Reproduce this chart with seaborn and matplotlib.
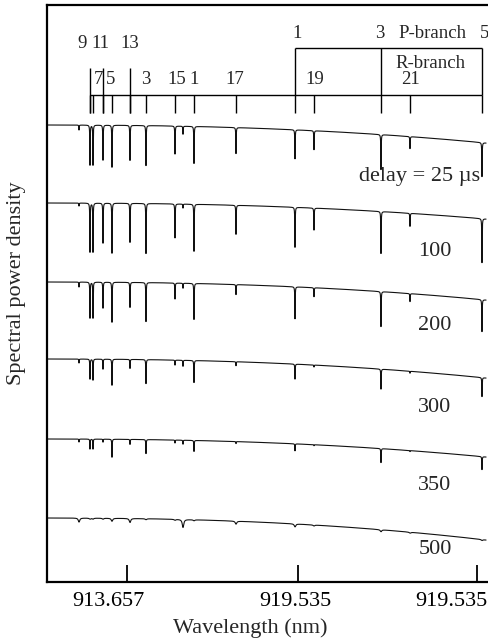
import numpy as np
import pandas as pd
import matplotlib
matplotlib.use("Agg")
import matplotlib.pyplot as plt
import seaborn as sns
from matplotlib.transforms import ScaledTranslation

# ---------------- data ----------------
delays = ["25", "100", "200", "300", "350", "500"]
delay_labels = ["delay = 25 µs", "100", "200", "300", "350", "500"]

# absorption line centres (nm)
line_nm = [912.007, 912.385, 912.488, 912.832, 913.141, 913.760, 914.310,
           915.307, 915.582, 915.960, 917.404, 919.432, 920.085, 922.388,
           923.385, 925.860]

# line depths (arbitrary units) for each delay
depth_25 = [5, 40, 40, 35, 42, 35, 40, 28, 8, 37, 26, 29, 19, 35, 12, 34]
depth_100 = [3, 49, 49, 40, 50, 39, 50, 34, 4, 47, 29, 40, 22, 42, 13, 44]
depth_200 = [5, 36, 36, 26, 40, 25, 39, 16, 5, 36, 10, 32, 9, 35, 8, 32]
depth_300 = [4, 20, 21, 10, 26, 9, 24, 5, 6, 22, 4, 15, 2, 20, 2, 19]
depth_350 = [3, 10, 10, 3, 18, 5, 14, 3, 4, 11, 2, 7, 1, 14, 1, 13]
depth_500 = [4, 1, 1, 1, 3, 4, 1, 1, 8, 1, 3, 3, 1, 2, 1, 1]
depths = [depth_25, depth_100, depth_200, depth_300, depth_350, depth_500]

# continuum level at the short-wavelength end and its drop toward the long end
cont_level = [457, 379, 300, 223, 143, 64]
cont_drop = [18, 16, 18, 19, 18, 22]
line_width_nm = [0.007, 0.007, 0.007, 0.007, 0.007, 0.03]

xtick_pos = [913.657, 919.535, 925.688]
xtick_labels = ["913.657", "919.535", "919.535"]

# ---------------- build spectra ----------------
x_start, x_end = 910.907, 926.0
grid = np.sort(np.unique(np.concatenate([np.linspace(x_start, x_end, 9000),
                                         np.array(line_nm)])))
frames = []
for name, dep, lev, drop, gam in zip(delays, depths, cont_level, cont_drop, line_width_nm):
    t = (grid - x_start) / (x_end - x_start)
    y = lev - drop * t ** 2.3
    for c, d in zip(line_nm, dep):
        y = y - d * gam ** 2 / ((grid - c) ** 2 + gam ** 2)
    frames.append(pd.DataFrame({"wavelength": grid, "power": y, "delay": name}))
df = pd.concat(frames, ignore_index=True)

# ---------------- figure ----------------
sns.set_theme(style="ticks")
plt.rcParams['font.family'] = ['Liberation Serif', 'DejaVu Serif']

W, H = 489, 644
fig = plt.figure(figsize=(W / 100, H / 100), dpi=100)
ax = fig.add_axes([47 / W, 1 - 582 / H, (489 - 47) / W, (582 - 5) / H])

sns.lineplot(data=df, x="wavelength", y="power", units="delay", estimator=None,
             color="#111111", linewidth=0.8, sort=False, legend=False, ax=ax)

xmin, xmax = 910.907, 926.101
ax.set_xlim(xmin, xmax)
ax.set_ylim(0, 577)


def px2x(px):
    return xmin + (px - 47) / (489 - 47) * (xmax - xmin)


def py2y(py):
    return 582 - py


# spines / ticks
for s in ["left", "bottom", "top"]:
    ax.spines[s].set_linewidth(1.6)
    ax.spines[s].set_color("black")
ax.spines["right"].set_visible(False)
ax.set_yticks([])
ax.set_xticks(xtick_pos)
ax.set_xticklabels(xtick_labels)
ax.tick_params(axis="x", direction="in", length=12, width=1.3, labelsize=16,
               pad=7, colors="black")
label_shift_px = [-19, -3, -26]
for lab, dx in zip(ax.get_xticklabels(), label_shift_px):
    lab.set_transform(lab.get_transform() + ScaledTranslation(dx / 100, 0, fig.dpi_scale_trans))
ax.set_xlabel("")
ax.set_ylabel("")

fig.text(250 / W, 1 - 628 / H, "Wavelength (nm)", ha="center", va="center", fontsize=16)
fig.text(17 / W, 1 - 283 / H, "Spectral power density", ha="center", va="center",
         rotation=90, fontsize=16)

# delay labels
label_pos = [(420, 176), (435, 252), (435, 326), (435, 407), (435, 485), (435, 550)]
for txt, (px, py) in zip(delay_labels, label_pos):
    ax.text(px2x(px), py2y(py), txt, ha="center", va="center", fontsize=16)

# ---------------- branch assignment diagram ----------------
tick_lines = [line_nm[i] for i in range(len(line_nm)) if i not in (0, 8)]
ax.vlines(tick_lines, py2y(113), py2y(95), color="black", linewidth=1.0)
ax.vlines([line_nm[1], line_nm[3], line_nm[5]], py2y(113), py2y(68), color="black", linewidth=1.0)
ax.hlines(py2y(95), line_nm[1], line_nm[-1], color="black", linewidth=1.0)
ax.hlines(py2y(48), line_nm[11], line_nm[-1], color="black", linewidth=1.0)
ax.vlines([line_nm[11], line_nm[13], line_nm[-1]], py2y(95), py2y(48), color="black", linewidth=1.0)

annot = [("9", 82, 43), ("11", 100, 43), ("13", 130, 43),
         ("7", 98, 80), ("5", 111, 80), ("3", 146, 80), ("15", 177, 80),
         ("1", 194, 80), ("17", 235, 80), ("19", 315, 80), ("21", 410, 80),
         ("1", 297, 33), ("3", 380, 33), ("P-branch", 432, 33), ("5", 485, 33),
         ("R-branch", 430, 63)]
for txt, px, py in annot:
    ax.text(px2x(px), py2y(py), txt, ha="center", va="center", fontsize=13.5)

fig.savefig("out.png", dpi=100)
